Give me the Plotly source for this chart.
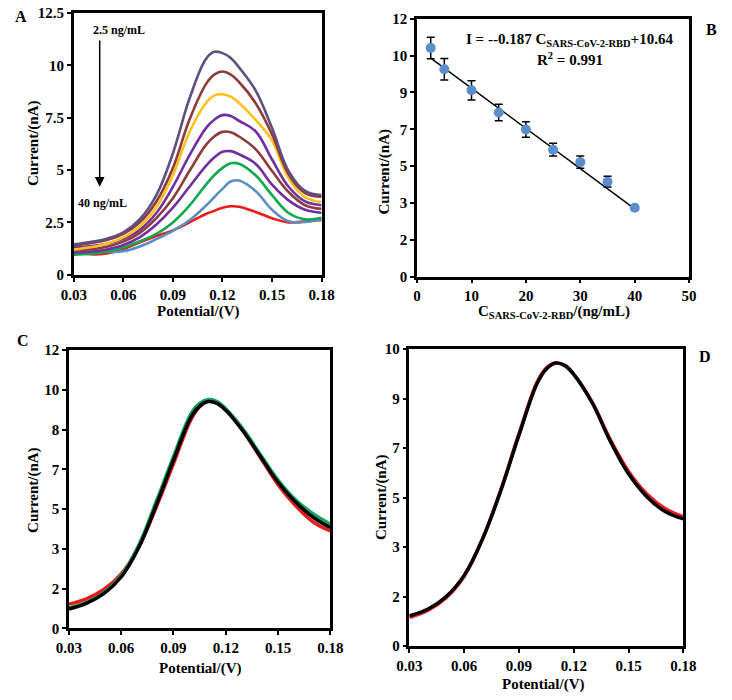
import numpy as np
import plotly.graph_objects as go

# ---------------- data ----------------
# panel A: DPV curves for increasing SARS-CoV-2-RBD concentration
potential_a = [0.03, 0.04, 0.05, 0.06, 0.07, 0.08, 0.09, 0.10, 0.11, 0.115,
               0.12, 0.125, 0.13, 0.14, 0.15, 0.16, 0.17, 0.18]
curve_2_5 = [1.45, 1.56, 1.72, 2.02, 2.65, 3.8, 5.8, 8.4, 10.3, 10.64,
             10.58, 10.35, 9.9, 8.8, 7.0, 4.95, 4.0, 3.8]
curve_5 = [1.4, 1.51, 1.66, 1.95, 2.5, 3.5, 5.1, 7.4, 9.1, 9.55,
           9.7, 9.55, 9.2, 8.2, 6.7, 4.8, 3.9, 3.72]
curve_10 = [1.2, 1.31, 1.48, 1.78, 2.3, 3.22, 4.75, 6.8, 8.2, 8.55,
            8.62, 8.5, 8.2, 7.4, 6.4, 4.6, 3.7, 3.47]
curve_15 = [1.3, 1.36, 1.48, 1.72, 2.15, 2.95, 4.2, 5.7, 7.0, 7.4,
            7.62, 7.58, 7.35, 6.85, 5.5, 4.2, 3.5, 3.32]
curve_20 = [1.15, 1.22, 1.34, 1.58, 2.0, 2.7, 3.65, 4.95, 6.2, 6.6,
            6.82, 6.8, 6.6, 6.0, 4.95, 3.95, 3.32, 3.15]
curve_25 = [1.05, 1.1, 1.21, 1.42, 1.8, 2.4, 3.2, 4.2, 5.2, 5.6,
            5.87, 5.9, 5.75, 5.3, 4.3, 3.55, 3.1, 2.96]
curve_30 = [0.95, 1.0, 1.1, 1.3, 1.6, 1.95, 2.5, 3.3, 4.3, 4.75,
            5.1, 5.32, 5.3, 4.75, 3.8, 2.95, 2.65, 2.72]
curve_35 = [1.3, 1.2, 1.1, 1.12, 1.35, 1.7, 2.1, 2.6, 3.3, 3.7,
            4.1, 4.45, 4.5, 4.0, 3.1, 2.55, 2.52, 2.65]
curve_40 = [1.1, 0.98, 1.02, 1.22, 1.55, 1.85, 2.12, 2.5, 2.9, 3.05,
            3.2, 3.27, 3.25, 3.0, 2.7, 2.5, 2.55, 2.62]
curves_a = [curve_40, curve_35, curve_30, curve_25, curve_20,
            curve_15, curve_10, curve_5, curve_2_5]
colors_a = ["#ea1c1c", "#5b8fc4", "#10a84f", "#7030a0", "#8e3b3b",
            "#7030a0", "#fcc21b", "#8e3b3b", "#5f4f80"]

# panel B: calibration
conc = [2.5, 5, 10, 15, 20, 25, 30, 35, 40]
current = [10.64, 9.65, 8.67, 7.64, 6.85, 5.91, 5.33, 4.42, 3.21]
current_err = [0.5, 0.5, 0.45, 0.38, 0.36, 0.3, 0.28, 0.25, 0.1]
fit_x = [2.5, 40]
fit_y = [10.17, 3.16]
b_ytick_labels = ["0", "2", "3", "5", "7", "9", "10", "12"]

# panel C / D
potential_cd = [0.03, 0.04, 0.05, 0.06, 0.07, 0.08, 0.09, 0.10, 0.105, 0.11,
                0.115, 0.12, 0.13, 0.14, 0.15, 0.16, 0.17, 0.18]
c_red = [1.05, 1.28, 1.68, 2.35, 3.5, 5.2, 7.1, 9.0, 9.55, 9.8,
         9.72, 9.42, 8.5, 7.35, 6.2, 5.3, 4.6, 4.2]
c_green = [0.88, 1.12, 1.54, 2.28, 3.58, 5.45, 7.4, 9.25, 9.7, 9.87,
           9.78, 9.47, 8.58, 7.48, 6.4, 5.55, 4.95, 4.5]
c_black = [0.84, 1.08, 1.5, 2.22, 3.48, 5.3, 7.25, 9.1, 9.58, 9.78,
           9.7, 9.4, 8.5, 7.4, 6.3, 5.45, 4.8, 4.35]
c_ytick_labels = ["0", "2", "3", "5", "7", "8", "10", "12"]
d_red = [0.97, 1.2, 1.62, 2.35, 3.6, 5.25, 7.15, 8.9, 9.36, 9.53,
         9.45, 9.15, 8.22, 6.95, 5.88, 5.12, 4.63, 4.36]
d_black = [1.02, 1.24, 1.66, 2.38, 3.6, 5.22, 7.1, 8.85, 9.33, 9.53,
           9.45, 9.15, 8.2, 6.9, 5.8, 5.03, 4.53, 4.28]
d_ytick_labels = ["0", "2", "3", "5", "7", "9", "10"]

W, H = 732, 700
FONT = "Liberation Serif, Times New Roman, serif"


def px_x(p):
    return p / W


def px_y(p):
    return 1 - p / H


fig = go.Figure()

# A
for ys, col in zip(curves_a, colors_a):
    fig.add_trace(go.Scatter(x=potential_a, y=ys, mode="lines",
                             line=dict(color=col, width=2.6, shape="spline", smoothing=1.1),
                             xaxis="x", yaxis="y"))

# B
fig.add_trace(go.Scatter(x=fit_x, y=fit_y, mode="lines", line=dict(color="black", width=1.5),
                         xaxis="x2", yaxis="y2"))
fig.add_trace(go.Scatter(x=conc, y=current, mode="markers",
                         marker=dict(color="#5b8ccc", size=10),
                         error_y=dict(type="data", array=current_err, color="black",
                                      thickness=1.5, width=4),
                         xaxis="x2", yaxis="y2"))

# C
for ys, col in [(c_red, "#e81c1c"), (c_green, "#10a060"), (c_black, "black")]:
    fig.add_trace(go.Scatter(x=potential_cd, y=ys, mode="lines",
                             line=dict(color=col, width=3.5, shape="spline", smoothing=1.1),
                             xaxis="x3", yaxis="y3"))

# D
for ys, col in [(d_red, "#e81c1c"), (d_black, "black")]:
    fig.add_trace(go.Scatter(x=potential_cd, y=ys, mode="lines",
                             line=dict(color=col, width=3.5, shape="spline", smoothing=1.1),
                             xaxis="x4", yaxis="y4"))

tickfont = dict(family=FONT, size=15, color="black", weight="bold")
axis_style = dict(showline=True, linewidth=2.5, linecolor="black", mirror=True,
                  ticks="outside", ticklen=4, tickwidth=2, tickcolor="black",
                  showgrid=False, zeroline=False, tickfont=tickfont)
pot_ticks = dict(tickmode="array", tickvals=[0.03, 0.06, 0.09, 0.12, 0.15, 0.18],
                 ticktext=["0.03", "0.06", "0.09", "0.12", "0.15", "0.18"])

fig.update_layout(
    width=W, height=H,
    margin=dict(l=0, r=0, t=0, b=0),
    plot_bgcolor="white", paper_bgcolor="white",
    showlegend=False,
    xaxis=dict(domain=[px_x(63), px_x(320)], range=[0.03, 0.18], anchor="y", **pot_ticks, **axis_style),
    yaxis=dict(domain=[px_y(273), px_y(5)], range=[0, 12.5], dtick=2.5, anchor="x", **axis_style),
    xaxis2=dict(domain=[px_x(419), px_x(701)], range=[0, 50], dtick=10, anchor="y2", **axis_style),
    yaxis2=dict(domain=[px_y(275), px_y(11)], range=[0, 12], anchor="x2", tickmode="array",
                tickvals=list(np.linspace(0, 12, len(b_ytick_labels))), ticktext=b_ytick_labels,
                **axis_style),
    xaxis3=dict(domain=[px_x(58), px_x(329)], range=[0.03, 0.18], anchor="y3", **pot_ticks, **axis_style),
    yaxis3=dict(domain=[px_y(635), px_y(350)], range=[0, 12], anchor="x3", tickmode="array",
                tickvals=list(np.linspace(0, 12, len(c_ytick_labels))), ticktext=c_ytick_labels,
                **axis_style),
    xaxis4=dict(domain=[px_x(411), px_x(695)], range=[0.03, 0.18], anchor="y4", **pot_ticks, **axis_style),
    yaxis4=dict(domain=[px_y(653), px_y(349)], range=[0, 10], anchor="x4", tickmode="array",
                tickvals=list(np.linspace(0, 10, len(d_ytick_labels))), ticktext=d_ytick_labels,
                **axis_style),
)


def paper_text(text, x, y, size=15, angle=0):
    fig.add_annotation(text=text, x=px_x(x), y=px_y(y), xref="paper", yref="paper",
                       showarrow=False, textangle=angle, xanchor="center", yanchor="middle",
                       font=dict(family=FONT, size=size, color="black", weight="bold"))


# axis titles
paper_text("Potential/(V)", 192, 311)
paper_text("Current/(nA)", 22, 138, angle=-90)
paper_text("C<sub>SARS-CoV-2-RBD</sub>/(ng/mL)", 561, 311)
paper_text("Current/(nA)", 385, 167, angle=-90)
paper_text("Potential/(V)", 194, 676)
paper_text("Current/(nA)", 22, 493, angle=-90)
paper_text("Potential/(V)", 550, 692)
paper_text("Current/(nA)", 382, 500, angle=-90)

# panel letters
paper_text("A", 8, 9, size=16)
paper_text("B", 724, 22, size=16)
paper_text("C", 10, 340, size=16)
paper_text("D", 717, 357, size=16)

# equation in B
paper_text("I = --0.187 C<sub>SARS-CoV-2-RBD</sub>+10.64", 577, 33)
paper_text("R<sup>2</sup> = 0.991", 577, 52)

# concentration labels and arrow in A
paper_text("2.5 ng/mL", 110, 23, size=12)
paper_text("40 ng/mL", 93, 200, size=12)
fig.add_annotation(x=0.0457, y=4.2, ax=0.0457, ay=11.25, xref="x", yref="y",
                   axref="x", ayref="y", text="", showarrow=True,
                   arrowhead=2, arrowsize=1.3, arrowwidth=1.5, arrowcolor="black")

# page has a default body margin; drop it so the figure sits at the window corner
fig.write_html("out.html", config={"displayModeBar": False},
               post_script="document.body.style.margin='0';")
